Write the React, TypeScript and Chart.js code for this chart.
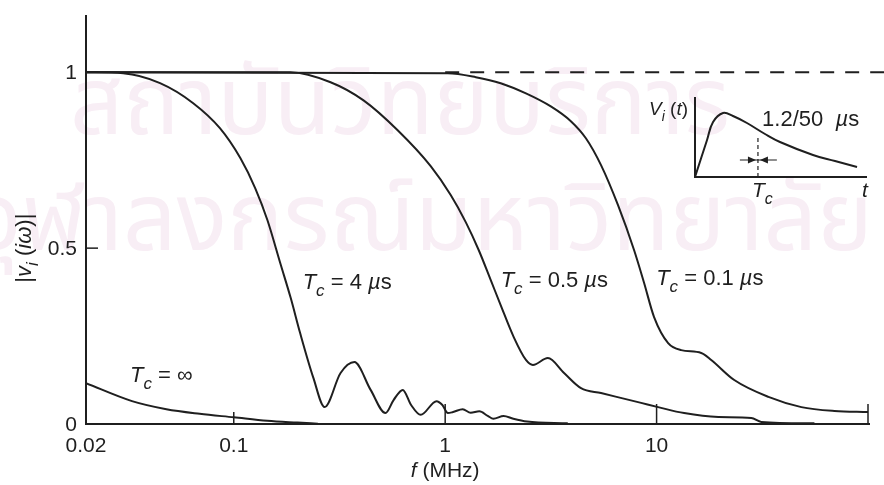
import React, { useEffect, useRef } from "react";
import { Chart, registerables } from "chart.js";
Chart.register(...registerables);

// ---------- data ----------
const xTickValues = [0.02, 0.1, 1, 10, 100];
const xTickLabels = ["0.02", "0.1", "1", "10", ""];
const yTickValues = [0, 0.5, 1];
const yTickLabels = ["0", "0.5", "1"];

const tcInfF = [0.02, 0.033, 0.048, 0.069, 0.1, 0.144, 0.2, 0.25];
const tcInfV = [0.116, 0.065, 0.042, 0.029, 0.019, 0.009, 0.004, 0.001];

const tc4F = [0.02, 0.03, 0.0448, 0.0643, 0.086, 0.1074, 0.1264, 0.1442, 0.166, 0.186, 0.206, 0.238, 0.269, 0.32, 0.372, 0.444, 0.522, 0.57, 0.63, 0.69, 0.766, 0.91, 0.97, 1.03, 1.09, 1.21, 1.32, 1.45, 1.59, 1.69, 1.89, 2.1, 2.44, 3.8];
const tc4V = [1.0, 0.997, 0.969, 0.912, 0.841, 0.756, 0.67, 0.58, 0.457, 0.358, 0.2585, 0.131, 0.048, 0.145, 0.176, 0.097, 0.031, 0.068, 0.097, 0.054, 0.026, 0.065, 0.054, 0.031, 0.034, 0.042, 0.032, 0.036, 0.023, 0.015, 0.023, 0.015, 0.007, 0.002];

const tc05F = [0.02, 0.185, 0.287, 0.411, 0.596, 0.854, 1.062, 1.251, 1.442, 1.643, 1.83, 2.11, 2.41, 2.6, 3.06, 3.65, 4.39, 5.46, 8.45, 10.17, 13.5, 19.6, 28.05, 31.3, 55.8];
const tc05V = [1.0, 1.0, 0.9716, 0.92, 0.835, 0.733, 0.651, 0.574, 0.494, 0.409, 0.338, 0.247, 0.182, 0.168, 0.1875, 0.145, 0.102, 0.088, 0.06, 0.048, 0.031, 0.02, 0.017, 0.006, 0.002];

const tc01F = [0.02, 1.028, 1.396, 1.83, 2.41, 3.16, 3.93, 4.63, 5.46, 6.57, 7.83, 8.73, 9.73, 11.34, 13.07, 16.26, 18.13, 23.3, 33.8, 48.4, 69.4, 100];
const tc01V = [1.0, 0.997, 0.986, 0.969, 0.94, 0.903, 0.861, 0.8125, 0.736, 0.622, 0.494, 0.401, 0.304, 0.23, 0.21, 0.202, 0.182, 0.125, 0.077, 0.048, 0.037, 0.034];

const refF = [1.0, 130];
const refV = [1, 1];

// inset waveform 1.2/50 us (normalised time / amplitude)
const waveT = [0, 0.07, 0.105, 0.163, 0.221, 0.302, 0.407, 0.494, 0.686, 0.814, 0.942];
const waveV = [0, 0.4625, 0.6875, 0.8, 0.7625, 0.675, 0.5375, 0.4375, 0.275, 0.2, 0.125];
const chopT = 0.366;

// curve labels: [text after "= ", anchor f, anchor v]
const curveLabels: [string, number, number][] = [
  ["\u221e", 0.0323, 0.119],
  ["4", 0.2118, 0.3835],
  ["0.5", 1.83, 0.389],
  ["0.1", 9.95, 0.395],
];

const watermark1 = "สถาบันวิทยบริการ";
const watermark2 = "จุฬาลงกรณ์มหาวิทยาลัย";

// ---------- helpers ----------
const FONT = '"Liberation Sans", Arial, Helvetica, sans-serif';
const INK = "#1f1f1f";
type Seg = { t: string; it?: boolean; sub?: boolean };

function drawRich(ctx: CanvasRenderingContext2D, segs: Seg[], x: number, y: number, size: number, align: "left" | "right" | "center") {
  const fontFor = (s: Seg) => `${s.it ? "italic " : ""}${s.sub ? Math.round(size * 0.75) : size}px ${FONT}`;
  const widths = segs.map((s) => {
    ctx.font = fontFor(s);
    return ctx.measureText(s.t).width;
  });
  const total = widths.reduce((a, b) => a + b, 0);
  let cx = align === "left" ? x : align === "right" ? x - total : x - total / 2;
  ctx.textAlign = "left";
  ctx.textBaseline = "alphabetic";
  segs.forEach((s, i) => {
    ctx.font = fontFor(s);
    ctx.fillText(s.t, cx, s.sub ? y + size * 0.32 : y);
    cx += widths[i];
  });
}

const pts = (xs: number[], ys: number[]) => xs.map((x, i) => ({ x, y: ys[i] }));

const mainPlugin = {
  id: "mainDecor",
  beforeDraw(chart: any) {
    const ctx = chart.ctx as CanvasRenderingContext2D;
    ctx.save();
    ctx.fillStyle = "#f8eef5";
    ctx.textBaseline = "alphabetic";
    ctx.textAlign = "left";
    ctx.font = `94px "Noto Sans Thai", "Noto Sans", "DejaVu Sans", sans-serif`;
    ctx.fillText(watermark1, 70, 134, 660);
    ctx.fillText(watermark2, -28, 250, 910);
    ctx.restore();
  },
  afterDraw(chart: any) {
    const ctx = chart.ctx as CanvasRenderingContext2D;
    const xs = chart.scales.x;
    const ys = chart.scales.y;
    const area = chart.chartArea;
    ctx.save();
    ctx.strokeStyle = INK;
    ctx.fillStyle = INK;
    ctx.lineWidth = 2;
    // axes
    ctx.beginPath();
    ctx.moveTo(area.left, area.top - 1);
    ctx.lineTo(area.left, area.bottom);
    ctx.lineTo(area.right + 2, area.bottom);
    ctx.stroke();
    // x ticks (inward)
    ctx.lineWidth = 1.5;
    xTickValues.forEach((v) => {
      if (v === xs.min) return;
      const px = xs.getPixelForValue(v);
      const len = v === 0.1 ? 12 : 20;
      ctx.beginPath();
      ctx.moveTo(px, area.bottom);
      ctx.lineTo(px, area.bottom - len);
      ctx.stroke();
    });
    // y ticks (inward)
    yTickValues.forEach((v) => {
      const py = ys.getPixelForValue(v);
      ctx.beginPath();
      ctx.moveTo(area.left, py);
      ctx.lineTo(area.left + 12, py);
      ctx.stroke();
    });
    // tick labels
    ctx.font = `21px ${FONT}`;
    ctx.textBaseline = "middle";
    ctx.textAlign = "center";
    xTickValues.forEach((v, i) => {
      ctx.fillText(xTickLabels[i], xs.getPixelForValue(v), area.bottom + 22);
    });
    ctx.textAlign = "right";
    yTickValues.forEach((v, i) => {
      ctx.fillText(yTickLabels[i], area.left - 9, ys.getPixelForValue(v) + 1);
    });
    // axis titles
    drawRich(ctx, [{ t: "f", it: true }, { t: " (MHz)" }], xs.getPixelForValue(1), area.bottom + 53, 21, "center");
    ctx.save();
    ctx.translate(31, ys.getPixelForValue(0.5));
    ctx.rotate(-Math.PI / 2);
    drawRich(ctx, [{ t: "|" }, { t: "v", it: true }, { t: "i", it: true, sub: true }, { t: " (" }, { t: "i\u03c9", it: true }, { t: ")|" }], 0, 0, 22, "center");
    ctx.restore();
    // curve labels
    curveLabels.forEach(([txt, f, v]) => {
      const segs: Seg[] = [{ t: "T", it: true }, { t: "c", it: true, sub: true }, { t: " = " + txt }];
      if (txt !== "\u221e") segs.push({ t: " " }, { t: "\u00b5", it: true }, { t: "s" });
      drawRich(ctx, segs, xs.getPixelForValue(f), ys.getPixelForValue(v), 22, "left");
    });
    ctx.restore();
  },
};

const insetPlugin = {
  id: "insetDecor",
  afterDraw(chart: any) {
    const ctx = chart.ctx as CanvasRenderingContext2D;
    const xs = chart.scales.x;
    const ys = chart.scales.y;
    const area = chart.chartArea;
    ctx.save();
    ctx.strokeStyle = INK;
    ctx.fillStyle = INK;
    ctx.lineWidth = 2;
    ctx.beginPath();
    ctx.moveTo(area.left, area.top);
    ctx.lineTo(area.left, area.bottom);
    ctx.lineTo(area.right, area.bottom);
    ctx.stroke();
    // arrows around chop time
    const ay = ys.getPixelForValue(0.2125);
    const cx = xs.getPixelForValue(chopT);
    const l = xs.getPixelForValue(chopT - 0.105);
    const r = xs.getPixelForValue(chopT + 0.11);
    ctx.lineWidth = 1.2;
    ctx.beginPath();
    ctx.moveTo(l, ay);
    ctx.lineTo(r, ay);
    ctx.stroke();
    const head = (x: number, dir: number) => {
      ctx.beginPath();
      ctx.moveTo(x, ay);
      ctx.lineTo(x - dir * 8, ay - 3.5);
      ctx.lineTo(x - dir * 8, ay + 3.5);
      ctx.closePath();
      ctx.fill();
    };
    head(cx - 2, 1);
    head(cx + 2, -1);
    // labels
    drawRich(ctx, [{ t: "V", it: true }, { t: "i", it: true, sub: true }, { t: " (" }, { t: "t", it: true }, { t: ")" }], area.left - 7, area.top + 18, 19, "right");
    drawRich(ctx, [{ t: "1.2/50  " }, { t: "\u00b5", it: true }, { t: "s" }], xs.getPixelForValue(0.39), ys.getPixelForValue(0.64), 22, "left");
    drawRich(ctx, [{ t: "t", it: true }], area.right - 5, area.bottom + 20, 21, "left");
    drawRich(ctx, [{ t: "T", it: true }, { t: "c", it: true, sub: true }], cx - 6, area.bottom + 20, 21, "left");
    ctx.restore();
  },
};

const lineDs = (data: any[], extra: any = {}) => ({
  data,
  borderColor: INK,
  borderWidth: 2,
  pointRadius: 0,
  fill: false,
  cubicInterpolationMode: "monotone",
  ...extra,
});

export default function App() {
  const mainRef = useRef<HTMLCanvasElement>(null);
  const insetRef = useRef<HTMLCanvasElement>(null);

  useEffect(() => {
    document.body.style.margin = "0";
    const main = new Chart(mainRef.current!, {
      type: "line",
      data: {
        datasets: [
          lineDs(pts(refF, refV), { borderDash: [14, 11], clip: false, cubicInterpolationMode: "default", tension: 0 }),
          lineDs(pts(tcInfF, tcInfV)),
          lineDs(pts(tc4F, tc4V)),
          lineDs(pts(tc05F, tc05V)),
          lineDs(pts(tc01F, tc01V)),
        ],
      },
      options: {
        animation: false,
        responsive: false,
        devicePixelRatio: 1,
        layout: { padding: { left: 86, right: 16, top: 16, bottom: 61 } },
        plugins: { legend: { display: false }, tooltip: { enabled: false } },
        scales: {
          x: { type: "logarithmic", min: 0.02, max: 100, display: false },
          y: { type: "linear", min: 0, max: 1.16, display: false },
        },
      },
      plugins: [mainPlugin],
    } as any);

    const inset = new Chart(insetRef.current!, {
      type: "line",
      data: {
        datasets: [
          lineDs(pts(waveT, waveV), { cubicInterpolationMode: "default", tension: 0.4 }),
          lineDs(pts([chopT, chopT], [0, 0.52]), { borderWidth: 1.2, borderDash: [4, 3], cubicInterpolationMode: "default", tension: 0 }),
        ],
      },
      options: {
        animation: false,
        responsive: false,
        devicePixelRatio: 1,
        layout: { padding: { left: 695, right: 17, top: 97, bottom: 308 } },
        plugins: { legend: { display: false }, tooltip: { enabled: false } },
        scales: {
          x: { type: "linear", min: 0, max: 1, display: false },
          y: { type: "linear", min: 0, max: 1, display: false },
        },
      },
      plugins: [insetPlugin],
    } as any);

    return () => {
      main.destroy();
      inset.destroy();
    };
  }, []);

  return (
    <div style={{ position: "relative", width: 884, height: 485, background: "#fff" }}>
      <canvas ref={mainRef} width={884} height={485} style={{ position: "absolute", left: 0, top: 0 }} />
      <canvas ref={insetRef} width={884} height={485} style={{ position: "absolute", left: 0, top: 0 }} />
    </div>
  );
}
